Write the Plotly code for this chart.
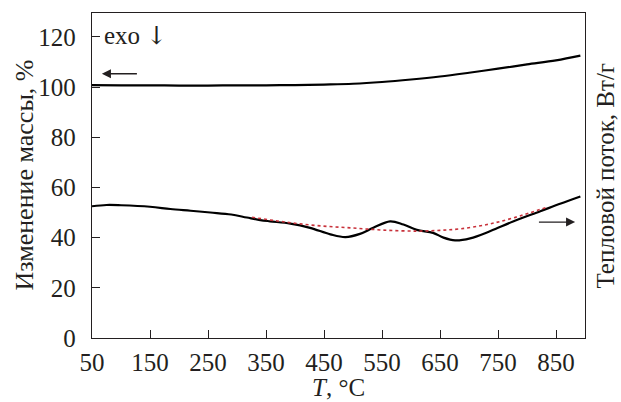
import plotly.graph_objects as go

# Mass change curve (TG), %
mass_T = [50, 100, 150, 200, 250, 300, 350, 400, 450, 500, 550, 600, 650, 700, 750, 800, 850, 892]
mass_val = [100.8, 100.7, 100.7, 100.6, 100.6, 100.7, 100.7, 100.8, 101.0, 101.3, 102.0, 103.0,
            104.2, 105.7, 107.3, 109.0, 110.6, 112.5]

# Heat flow curve (DSC), plotted on the same scale (right axis unlabeled)
dsc_T = [50, 75, 100, 150, 185, 220, 254, 290, 317, 340, 357, 392, 426, 461, 487, 512, 535, 564,
         587, 610, 638, 656, 676, 702, 737, 777, 823, 857, 892]
dsc_val = [52.5, 53.0, 52.9, 52.3, 51.4, 50.7, 50.0, 49.2, 48.0, 47.0, 46.5, 45.6, 43.9, 41.3,
           40.2, 41.5, 43.9, 46.5, 45.2, 43.1, 41.9, 40.0, 38.9, 39.7, 42.6, 46.5, 50.5, 53.5, 56.4]

# Baseline (red dotted)
base_T = [326, 380, 437, 495, 552, 610, 650, 685, 731, 777, 834]
base_val = [48.1, 46.3, 44.8, 43.9, 43.0, 42.6, 42.9, 43.5, 45.2, 47.9, 52.1]

x_ticks = [50, 150, 250, 350, 450, 550, 650, 750, 850]
y_ticks = [0, 20, 40, 60, 80, 100, 120]

FONT = "Liberation Serif, Times New Roman, Tinos, serif"
INK = "#231f20"

fig = go.Figure()
fig.add_trace(go.Scatter(x=mass_T, y=mass_val, mode="lines",
                         line=dict(color="black", width=2.2, shape="spline"), showlegend=False))
fig.add_trace(go.Scatter(x=dsc_T, y=dsc_val, mode="lines",
                         line=dict(color="black", width=2.2, shape="spline"), showlegend=False))
fig.add_trace(go.Scatter(x=base_T, y=base_val, mode="lines",
                         line=dict(color="#c8313a", width=1.6, dash="dot", shape="spline"),
                         showlegend=False))

fig.update_layout(
    width=621, height=402,
    margin=dict(l=92, r=36, t=13, b=64),
    paper_bgcolor="white", plot_bgcolor="white",
    font=dict(family=FONT, size=25, color=INK),
    xaxis=dict(range=[50, 900], tickvals=x_ticks, ticktext=[str(v) for v in x_ticks],
               ticks="inside", ticklen=8, tickwidth=1.2, tickcolor=INK,
               showline=True, linecolor=INK, linewidth=1.3, mirror=True,
               showgrid=False, zeroline=False, ticklabelstandoff=2,
               tickfont=dict(family=FONT, size=25)),
    yaxis=dict(range=[0, 129.5], tickvals=y_ticks, ticktext=[str(v) for v in y_ticks],
               ticks="inside", ticklen=8, tickwidth=1.2, tickcolor=INK,
               showline=True, linecolor=INK, linewidth=1.3, mirror=True,
               showgrid=False, zeroline=False, ticklabelstandoff=10,
               tickfont=dict(family=FONT, size=25)),
)

annotations = [
    # x-axis title
    dict(text="<i>T</i>, °C", xref="paper", yref="paper", x=0.5, y=0, xanchor="center",
         yanchor="top", yshift=-34, showarrow=False, font=dict(family=FONT, size=25)),
    # left y title
    dict(text="Изменение массы, %", xref="paper", yref="paper", x=0, y=0.5, xanchor="center",
         yanchor="middle", xshift=-68, textangle=-90, showarrow=False,
         font=dict(family=FONT, size=26)),
    # right y title
    dict(text="Тепловой поток, Вт/г", xref="paper", yref="paper", x=1, y=0.5, xanchor="center",
         yanchor="middle", xshift=20, textangle=-90, showarrow=False,
         font=dict(family=FONT, size=25)),
    # exo label
    dict(text="exo <span style=\"font-family:'DejaVu Serif'\">\u2193</span>", xref="x", yref="y",
         x=67, y=120.5, xanchor="left", yanchor="middle",
         showarrow=False, font=dict(family=FONT, size=25, color=INK)),
    # left arrow (mass curve -> left axis)
    dict(text="", xref="x", yref="y", axref="x", ayref="y", x=67, y=105.3, ax=130, ay=105.3,
         showarrow=True, arrowhead=2, arrowsize=1.4, arrowwidth=1.3, arrowcolor=INK),
    # right arrow (DSC curve -> right axis)
    dict(text="", xref="x", yref="y", axref="x", ayref="y", x=883, y=46.2, ax=818, ay=46.2,
         showarrow=True, arrowhead=2, arrowsize=1.4, arrowwidth=1.3, arrowcolor=INK),
]
fig.update_layout(annotations=annotations)

fig.write_html("out.html")
